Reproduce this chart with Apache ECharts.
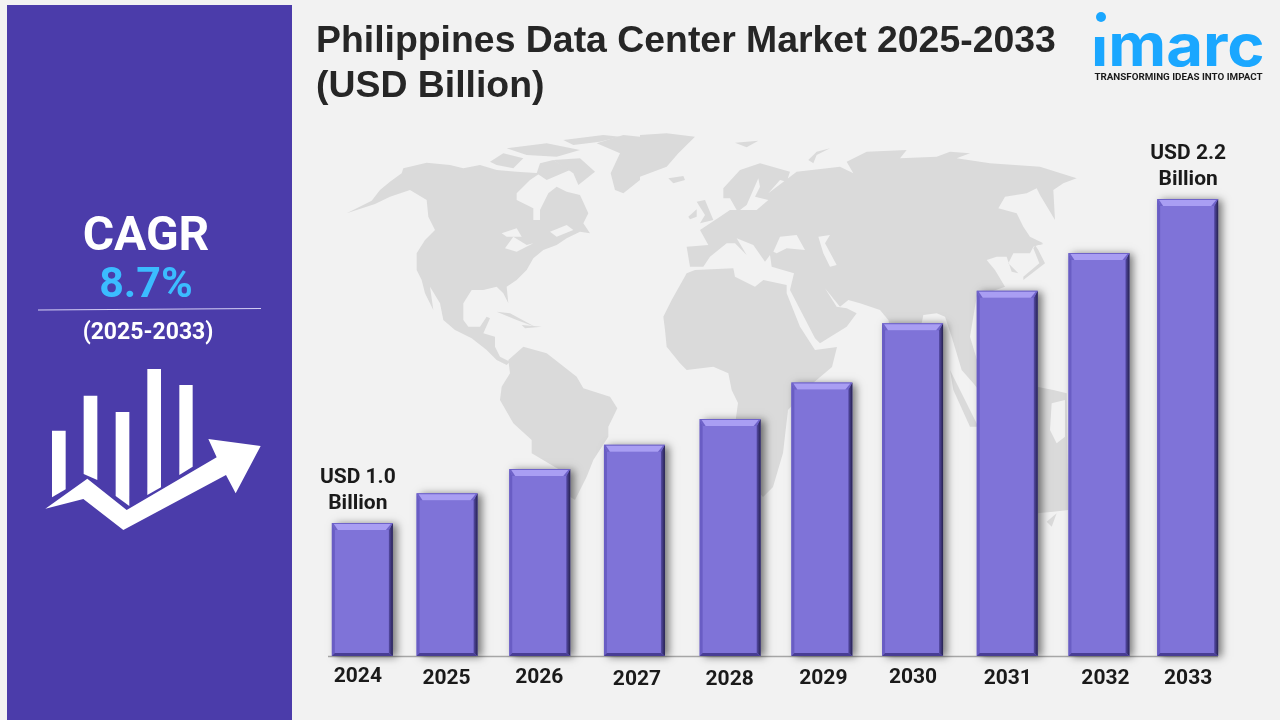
<!DOCTYPE html>
<html>
<head>
<meta charset="utf-8">
<title>Philippines Data Center Market</title>
<script src="https://cdn.jsdelivr.net/npm/echarts@6/dist/echarts.min.js"></script>
<style>
html,body{margin:0;padding:0;background:#f2f2f2;}
#mybox{width:1280px;height:720px;}
</style>
</head>
<body>
<div id="mybox"></div>
<script>
// data
var years = ['2024','2025','2026','2027','2028','2029','2030','2031','2032','2033'];
var marketValues = [1.0,1.11,1.2,1.29,1.385,1.52,1.74,1.86,2.0,2.2];
var valueLabels = ['USD 1.0\nBillion','','','','','','','','','USD 2.2\nBillion'];

// the reference places bars and year labels by hand, not evenly
var barNudge = [0,-7,-6,-3,1,1,0,3,3,0];
var labelNudgeX = [-4,-7,-6,0,1,3,1,4,10,1];
var labelNudgeY = [0,2,1,3,3,2,1,2,2,2];

var AXIS_MIN = 0.507;
var BAR_W = 60;
var LAND = '#dadada';
var BG = '#f2f2f2';

// world map backdrop, rough outlines traced from 3x crops (crop origin, then crop units)
var americas = [
  [[20,250],[95,212],[120,180],[150,155],[185,130],[190,115],[260,98],[330,105],[370,115],[420,105],[470,120],[530,125],[600,130],[570,150],[530,190],[530,210],[580,235],[580,270],[600,270],[600,240],[625,190],[650,170],[680,185],[720,195],[745,250],[730,280],[750,310],[720,305],[680,325],[650,345],[610,360],[580,385],[560,420],[530,450],[500,470],[505,520],[490,490],[470,470],[430,480],[395,480],[370,520],[370,570],[385,590],[420,590],[440,560],[450,565],[430,610],[465,620],[465,650],[480,680],[510,695],[500,705],[470,690],[440,660],[395,625],[345,600],[310,570],[300,520],[270,470],[280,540],[255,490],[245,450],[230,420],[230,370],[255,330],[285,300],[265,260],[260,210],[210,180],[150,200],[105,222]],
  [[450,95],[490,70],[550,85],[520,115],[470,105]],
  [[500,55],[620,40],[720,60],[650,80],[560,75]],
  [[640,90],[720,85],[765,125],[715,165],[700,130]],
  [[670,30],[790,15],[840,20],[780,35],[700,45]],
  [[600,100],[640,90],[690,120],[620,150],[590,130]],
  [[470,545],[510,550],[585,590],[530,570]],
  [[545,585],[605,590],[555,595]],
  [[770,40],[850,15],[900,20],[900,150],[850,190],[825,180],[812,130],[840,70]]
];
var americasLakes = [
  [[485,310],[530,295],[545,320],[500,320]],
  [[495,355],[520,320],[560,345],[580,340],[530,365]],
  [[630,305],[680,285],[700,300],[650,320]]
];
var southAmerica = [
  [[85,90],[130,50],[200,70],[290,140],[310,175],[390,200],[412,235],[385,290],[385,320],[340,390],[320,440],[285,510],[270,500],[240,420],[155,370],[155,330],[100,280],[60,210],[65,170],[90,130]]
];
var oldWorld = [
  [[0,15],[80,10],[165,20],[115,70],[80,110],[0,140]],
  [[85,145],[130,138],[135,150],[100,160]],
  [[170,215],[195,210],[220,270],[180,280],[195,255]],
  [[145,260],[170,238],[170,260],[150,268]],
  [[285,38],[355,32],[320,52]],
  [[505,90],[530,65],[570,55],[530,75],[520,100]],
  [[140,350],[205,345],[180,300],[240,260],[270,240],[290,240],[270,205],[250,205],[250,175],[300,120],[360,100],[450,125],[440,155],[420,150],[385,190],[470,125],[600,110],[640,130],[620,95],[680,65],[800,60],[780,85],[890,80],[930,65],[990,70],[950,85],[1050,100],[1200,110],[1310,145],[1270,160],[1240,180],[1245,270],[1200,195],[1190,175],[1160,190],[1095,200],[1075,235],[1130,250],[1150,290],[1170,320],[1210,340],[1180,350],[1170,370],[1120,370],[1105,400],[1135,430],[1115,425],[1100,380],[1070,380],[1040,390],[1065,420],[1095,470],[1010,500],[1000,560],[990,620],[1020,720],[1040,810],[1000,760],[965,720],[935,620],[915,560],[890,550],[850,555],[800,800],[745,570],[720,540],[660,520],[625,510],[600,530],[555,475],[590,530],[620,535],[650,550],[620,590],[540,640],[525,625],[450,480],[462,430],[395,410],[390,375],[375,395],[340,345],[290,325],[320,375],[285,340],[260,340],[210,380],[190,410],[150,410]],
  [[70,560],[95,510],[140,430],[165,420],[280,415],[285,440],[345,470],[370,450],[440,465],[440,490],[480,590],[525,660],[591,651],[576,711],[519,759],[444,840],[429,969],[399,1071],[369,1101],[324,1050],[279,930],[294,819],[275,780],[265,730],[220,710],[140,720],[120,700],[80,650],[75,600]],
  [[1150,450],[1215,400],[1195,360],[1185,345],[1210,345],[1190,340],[1180,355],[1198,400],[1150,440]],
  [[930,720],[1015,890],[990,890],[940,780]]
];
var oldWorldSeas = [
  [[400,365],[420,320],[470,315],[495,360],[440,355],[410,370]],
  [[535,320],[570,315],[555,340],[590,405],[570,410],[550,370]],
  [[320,225],[355,145],[360,170],[345,200],[385,210],[350,240],[300,240]]
];
var oceania = [
  [[-9,20],[40,30],[80,40],[85,390],[40,395],[-9,400]],
  [[20,425],[50,400],[35,440]]
];
var oceaniaBays = [
  [[35,70],[75,60],[75,170],[50,190],[30,150]]
];

// left panel icon, traced in crop units
var iconShapes = [
  [[156,692],[197,692],[197,868],[156,892]],
  [[251,587],[292,587],[292,840],[251,822]],
  [[347,636],[388,636],[388,918],[347,888]],
  [[442,507],[483,507],[483,862],[442,885]],
  [[538,555],[578,555],[578,800],[538,825]],
  [[136,926],[262,836],[380,930],[650,772],[625,717],[782,738],[707,880],[678,825],[370,990],[250,897]]
];

function poly(points, fill) {
  return {type:'polygon', shape:{points:points}, style:{fill:fill}};
}

function cropLayer(ox, oy, land, sea) {
  var kids = land.map(function(p){return poly(p,LAND);});
  if (sea) kids = kids.concat(sea.map(function(p){return poly(p,BG);}));
  return {type:'group', x:ox, y:oy, scaleX:1/3, scaleY:1/3, silent:true, children:kids};
}

function txt(text, x, y, font, fill) {
  return {type:'text', style:{text:text, x:x, y:y, font:font, fill:fill, textAlign:'center', textVerticalAlign:'middle'}};
}

// one bevelled bar
function renderBar(params, api) {
  var i = params.dataIndex;
  var top = api.coord([api.value(0), api.value(1)]);
  var base = api.coord([api.value(0), AXIS_MIN]);
  var x0 = top[0] + barNudge[i] - BAR_W / 2, x1 = x0 + BAR_W;
  var y0 = top[1], y1 = base[1];
  var kids = [
    {type:'rect', shape:{x:x0,y:y0,width:BAR_W+1,height:y1-y0}, style:{fill:'#7f73d8',shadowBlur:8,shadowOffsetX:4,shadowOffsetY:1,shadowColor:'rgba(0,0,0,0.5)'}},
    {type:'polygon', shape:{points:[[x0,y0],[x0+3,y0+7],[x0+3,y1-3],[x0,y1]]}, style:{fill:'#695dc4'}},
    {type:'polygon', shape:{points:[[x1+1,y0],[x1-3,y0+7],[x1-3,y1-3],[x1+1,y1]]}, style:{fill:{type:'linear',x:0,y:0,x2:1,y2:0,colorStops:[{offset:0,color:'#554aa6'},{offset:1,color:'#26224f'}]}}},
    {type:'polygon', shape:{points:[[x0,y1],[x0+3,y1-3],[x1-3,y1-3],[x1+1,y1]]}, style:{fill:'#483d94'}},
    {type:'polygon', shape:{points:[[x0,y0],[x1+1,y0],[x1-3,y0+7],[x0+3,y0+7]]}, style:{fill:'#6f63c9'}},
    {type:'polygon', shape:{points:[[x0+2,y0+1],[x1-1,y0+1],[x1-6,y0+7],[x0+6,y0+7]]}, style:{fill:'#a99ef3'}}
  ];
  if (valueLabels[i]) {
    kids.push({type:'text', style:{text:valueLabels[i], x:top[0]+labelNudgeX[i], y:y0-6, align:'center', verticalAlign:'bottom',
      font:'bold 21px Roboto', lineHeight:26, fill:'#1a1a1a'}});
  }
  return {type:'group', children:kids};
}

var mycharts = echarts.init(document.getElementById('mybox'));

var option = {
  animation:false,
  backgroundColor:BG,
  title:{
    text:'Philippines Data Center Market 2025-2033\n(USD Billion)',
    left:311, top:14,
    textStyle:{fontFamily:'Liberation Sans',fontWeight:'bold',fontSize:37.4,lineHeight:45,color:'#262626'}
  },
  grid:{left:316,right:47,top:172,height:484},
  xAxis:{
    type:'category',
    data:years.map(function(y,i){
      var dx = labelNudgeX[i];
      return {value:y, textStyle:{padding:[labelNudgeY[i],dx<0?-dx*2:0,0,dx>0?dx*2:0]}};
    }),
    axisTick:{show:false},
    axisLine:{show:false},
    axisLabel:{fontFamily:'Roboto',fontWeight:'bold',fontSize:21,color:'#1a1a1a',margin:10,interval:0}
  },
  yAxis:{type:'value',min:AXIS_MIN,max:2.3,show:false,splitLine:{show:false}},
  series:[{
    type:'custom',
    renderItem:renderBar,
    encode:{x:0,y:1},
    data:years.map(function(y,i){return [y,marketValues[i]];})
  }],
  graphic:[
    cropLayer(340,130,americas,americasLakes),
    cropLayer(480,330,southAmerica),
    cropLayer(640,130,oldWorld,oldWorldSeas),
    cropLayer(1040,380,oceania,oceaniaBays),
    // baseline only runs across the bars
    {type:'line', shape:{x1:328,y1:656.5,x2:1218,y2:656.5}, style:{stroke:'#a6a6a6',lineWidth:1.5}},
    {type:'rect', shape:{x:7,y:5,width:285,height:715}, style:{fill:'#4b3caa'}},
    txt('CAGR',146,238,'bold 48px Roboto','#ffffff'),
    txt('8.7%',146,286,'bold 43px Roboto','#3bbcff'),
    {type:'line', shape:{x1:38,y1:310,x2:261,y2:308.5}, style:{stroke:'#d6d0f5',lineWidth:1.2}},
    txt('(2025-2033)',148,333,'bold 23px Roboto','#ffffff'),
    {type:'group', x:0, y:200, scaleX:1/3, scaleY:1/3,
      children:iconShapes.map(function(p){return poly(p,'#ffffff');})},
    // logo
    {type:'group', x:1091, y:78, scaleX:1.095, scaleY:1, children:[
      {type:'text', style:{text:'imarc', x:0, y:0, font:'700 58px Inter', fill:'#1aa7ff', textVerticalAlign:'bottom'}}
    ]},
    {type:'rect', shape:{x:1088,y:8,width:24,height:29}, style:{fill:BG}},
    {type:'circle', shape:{cx:1101,cy:17,r:5}, style:{fill:'#1aa7ff'}},
    {type:'text', style:{text:'TRANSFORMING IDEAS INTO IMPACT', x:1178.5, y:78, font:'bold 9.8px Roboto', fill:'#1a1a1a', textAlign:'center', textVerticalAlign:'middle'}}
  ]
};
mycharts.setOption(option);
</script>
</body>
</html>
